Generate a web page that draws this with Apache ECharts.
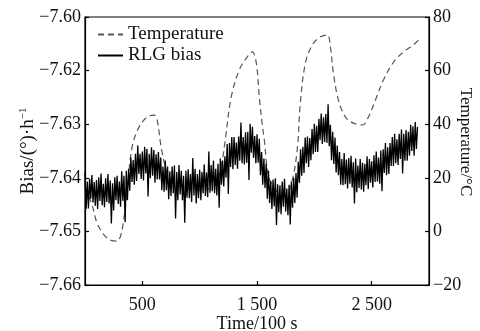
<!DOCTYPE html>
<html>
<head>
<meta charset="utf-8">
<style>html,body{margin:0;padding:0;background:#fff;}#c{width:480px;height:331px;}</style>
<script src="https://cdn.jsdelivr.net/npm/echarts@6/dist/echarts.min.js"></script>
</head>
<body>
<div id="c"></div>
<script>
// ---- data ----
const xTickValues = [500, 1500, 2500];
const xTickLabels = ['500', '1 500', '2 500'];
const leftTickLabels = ['\u22127.66', '\u22127.65', '\u22127.64', '\u22127.63', '\u22127.62', '\u22127.60'];
const rightTickLabels = ['\u221220', '0', '20', '40', '60', '80'];

const tempTime = [0, 61, 105, 166, 218, 280, 323, 367, 411, 472, 542, 603, 629, 664, 708, 760, 874, 1005, 1136, 1197, 1223, 1275, 1345, 1415, 1459, 1494, 1520, 1546, 1564, 1599, 1660, 1747, 1808, 1852, 1878, 1922, 1983, 2053, 2114, 2140, 2166, 2210, 2271, 2341, 2420, 2472, 2533, 2603, 2691, 2778, 2865, 2909];
const tempValue = [16.5, 10.0, 3.1, -1.3, -3.2, -3.6, 0.5, 15.4, 31.5, 39.0, 42.7, 43.4, 41.6, 31.5, 22.9, 18.4, 16.2, 15.4, 17.3, 26.6, 34.1, 50.1, 60.2, 65.1, 67.0, 62.8, 50.1, 39.7, 34.1, 21.0, 15.4, 13.6, 19.2, 31.1, 47.9, 62.8, 69.6, 72.6, 73.3, 68.8, 59.1, 49.0, 42.7, 40.4, 39.7, 42.7, 49.0, 56.5, 63.2, 67.0, 69.6, 71.4];

const biasStart = 0;   // time of first bias sample (100 s)
const biasStep = 10;   // sampling step (100 s)
const biasValue = [
-7.6390,-7.6458,-7.6407,-7.6457,-7.6402,-7.6439,-7.6395,-7.6446,-7.6408,-7.6452,
-7.6404,-7.6458,-7.6399,-7.6443,-7.6392,-7.6451,-7.6411,-7.6455,-7.6401,-7.6445,
-7.6393,-7.6448,-7.6405,-7.6485,-7.6410,-7.6461,-7.6399,-7.6442,-7.6396,-7.6449,
-7.6407,-7.6454,-7.6388,-7.6443,-7.6396,-7.6483,-7.6387,-7.6442,-7.6383,-7.6424,
-7.6362,-7.6408,-7.6367,-7.6413,-7.6355,-7.6406,-7.6340,-7.6393,-7.6355,-7.6402,
-7.6351,-7.6405,-7.6342,-7.6392,-7.6346,-7.6435,-7.6355,-7.6401,-7.6343,-7.6396,
-7.6348,-7.6409,-7.6356,-7.6403,-7.6352,-7.6403,-7.6362,-7.6423,-7.6379,-7.6426,
-7.6368,-7.6423,-7.6379,-7.6440,-7.6388,-7.6434,-7.6379,-7.6429,-7.6377,-7.6476,
-7.6389,-7.6442,-7.6376,-7.6431,-7.6387,-7.6442,-7.6396,-7.6484,-7.6387,-7.6437,
-7.6384,-7.6438,-7.6393,-7.6445,-7.6363,-7.6433,-7.6383,-7.6448,-7.6393,-7.6438,
-7.6385,-7.6442,-7.6389,-7.6429,-7.6375,-7.6434,-7.6390,-7.6436,-7.6351,-7.6428,
-7.6376,-7.6425,-7.6368,-7.6429,-7.6383,-7.6433,-7.6374,-7.6456,-7.6364,-7.6413,
-7.6368,-7.6416,-7.6360,-7.6400,-7.6337,-7.6430,-7.6335,-7.6380,-7.6324,-7.6384,
-7.6324,-7.6376,-7.6334,-7.6383,-7.6323,-7.6368,-7.6297,-7.6373,-7.6324,-7.6375,
-7.6315,-7.6372,-7.6314,-7.6404,-7.6299,-7.6353,-7.6305,-7.6363,-7.6322,-7.6373,
-7.6319,-7.6372,-7.6327,-7.6395,-7.6352,-7.6413,-7.6364,-7.6419,-7.6374,-7.6439,
-7.6387,-7.6447,-7.6406,-7.6458,-7.6403,-7.6453,-7.6401,-7.6488,-7.6412,-7.6464,
-7.6414,-7.6468,-7.6407,-7.6454,-7.6402,-7.6463,-7.6420,-7.6470,-7.6413,-7.6487,
-7.6407,-7.6456,-7.6400,-7.6447,-7.6391,-7.6437,-7.6370,-7.6409,-7.6347,-7.6396,
-7.6342,-7.6391,-7.6325,-7.6373,-7.6323,-7.6380,-7.6326,-7.6367,-7.6309,-7.6356,
-7.6299,-7.6352,-7.6303,-7.6352,-7.6290,-7.6330,-7.6280,-7.6337,-7.6287,-7.6333,
-7.6281,-7.6335,-7.6263,-7.6341,-7.6301,-7.6367,-7.6314,-7.6374,-7.6325,-7.6390,
-7.6340,-7.6395,-7.6352,-7.6413,-7.6365,-7.6414,-7.6354,-7.6412,-7.6366,-7.6420,
-7.6363,-7.6411,-7.6359,-7.6418,-7.6371,-7.6448,-7.6364,-7.6427,-7.6377,-7.6419,
-7.6365,-7.6422,-7.6372,-7.6426,-7.6374,-7.6414,-7.6360,-7.6421,-7.6365,-7.6409,
-7.6369,-7.6418,-7.6358,-7.6408,-7.6351,-7.6407,-7.6362,-7.6411,-7.6349,-7.6425,
-7.6347,-7.6391,-7.6335,-7.6395,-7.6343,-7.6393,-7.6335,-7.6378,-7.6324,-7.6378,
-7.6318,-7.6373,-7.6328,-7.6376,-7.6318,-7.6365,-7.6310,-7.6392,-7.6318,-7.6368,
-7.6311,-7.6368,-7.6314,-7.6359,-7.6301,-7.6350,-7.6304,-7.6359,-7.6296,-7.6346,
-7.6305
];

// ---- build chart ----
const FONT = '"Liberation Serif", "Times New Roman", serif';
const TXT = '#111';
const tempData = tempTime.map((t, i) => [t, tempValue[i]]);
const biasData = biasValue.map((v, i) => [biasStart + i * biasStep, v]);

const chart = echarts.init(document.getElementById('c'), null, {renderer: 'canvas'});
chart.setOption({
  animation: false,
  backgroundColor: '#fff',
  grid: {left: 85, right: 51, top: 17, bottom: 46, show: true, borderColor: '#000', borderWidth: 1.2,
    containLabel: false, outerBoundsMode: 'none'},
  legend: {
    orient: 'vertical', left: 97, top: 25, padding: 0, itemWidth: 25, itemHeight: 10, itemGap: 2,
    itemStyle: {opacity: 0},
    textStyle: {fontFamily: FONT, fontSize: 19, lineHeight: 19, color: TXT},
    data: ['Temperature', 'RLG bias']
  },
  xAxis: {
    type: 'value', min: 0, max: 3000,
    name: 'Time/100 s', nameLocation: 'middle', nameGap: 30, nameMoveOverlap: false,
    nameTextStyle: {fontFamily: FONT, fontSize: 18, color: TXT},
    axisLine: {show: true, onZero: false, lineStyle: {color: '#000', width: 1.2}},
    axisTick: {show: true, inside: true, length: 4, customValues: xTickValues, lineStyle: {color: '#000', width: 1.2}},
    axisLabel: {customValues: xTickValues, margin: 11, fontFamily: FONT, fontSize: 18, color: TXT,
      formatter: v => xTickLabels[xTickValues.indexOf(v)]},
    splitLine: {show: false}
  },
  yAxis: [{
    type: 'value', min: -7.66, max: -7.61, interval: 0.01, position: 'left',
    name: 'Bias/(\u00b0)\u00b7h{sup|\u22121}', nameLocation: 'middle', nameGap: 47, nameMoveOverlap: false,
    nameTextStyle: {fontFamily: FONT, fontSize: 19, color: TXT,
      rich: {sup: {fontFamily: FONT, fontSize: 11, color: TXT, verticalAlign: 'bottom', padding: [0, 0, 9, 0]}}},
    axisLine: {show: true, onZero: false, lineStyle: {color: '#000', width: 1.2}},
    axisTick: {show: true, inside: true, length: 4, lineStyle: {color: '#000', width: 1.2}},
    axisLabel: {margin: 4, fontFamily: FONT, fontSize: 18, color: TXT,
      formatter: v => leftTickLabels[Math.round((v + 7.66) / 0.01)]},
    splitLine: {show: false}
  }, {
    type: 'value', min: -20, max: 80, interval: 20, position: 'right',
    name: 'Temperature/\u00b0C', nameLocation: 'middle', nameGap: 28, nameRotate: -90, nameMoveOverlap: false,
    nameTextStyle: {fontFamily: FONT, fontSize: 17, color: TXT, padding: [0, 18, 0, 0]},
    axisLine: {show: true, onZero: false, lineStyle: {color: '#000', width: 1.2}},
    axisTick: {show: true, inside: true, length: 4, lineStyle: {color: '#000', width: 1.2}},
    axisLabel: {margin: 4, fontFamily: FONT, fontSize: 18, color: TXT,
      formatter: v => rightTickLabels[Math.round((v + 20) / 20)]},
    splitLine: {show: false}
  }],
  series: [{
    name: 'Temperature', type: 'line', yAxisIndex: 1, data: tempData,
    symbol: 'none', smooth: 0.35,
    lineStyle: {color: '#555', width: 1.2, type: [6, 4]},
    itemStyle: {color: '#555'}
  }, {
    name: 'RLG bias', type: 'line', yAxisIndex: 0, data: biasData,
    symbol: 'none', sampling: false,
    lineStyle: {color: '#000', width: 1.3},
    itemStyle: {color: '#000'}
  }]
});
</script>
</body>
</html>
